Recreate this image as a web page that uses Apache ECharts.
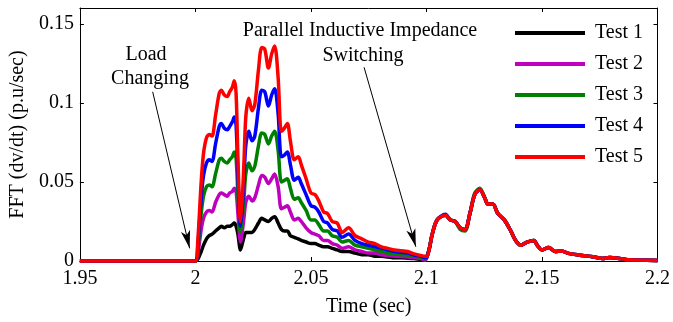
<!DOCTYPE html>
<html>
<head>
<meta charset="utf-8">
<script src="https://cdn.jsdelivr.net/npm/echarts@6/dist/echarts.min.js"></script>
<style>
  html, body { margin: 0; padding: 0; background: #fff; }
  #chart { width: 673px; height: 322px; }
</style>
</head>
<body>
<div id="chart"></div>
<script>
// Sample times (s)
const times = [
  1.95, 2.000, 2.001, 2.0025, 2.0035, 2.0048, 2.006, 2.0072, 2.0087, 2.0103,
  2.0112, 2.0125, 2.0138, 2.0148, 2.016, 2.0168, 2.0176, 2.0184, 2.0195, 2.0203,
  2.021, 2.0218, 2.0231, 2.0245, 2.0257, 2.0273, 2.0287, 2.030, 2.0316, 2.033,
  2.0343, 2.0358, 2.0372, 2.0385, 2.0398, 2.0411, 2.0428, 2.0445, 2.0458, 2.0479,
  2.050, 2.0517, 2.0534, 2.0555, 2.0572, 2.0592, 2.0614, 2.0635, 2.0663, 2.0691,
  2.072, 2.0748, 2.0777, 2.0805, 2.0833, 2.0862, 2.089, 2.0918, 2.0947, 2.0975,
  2.0995, 2.1003, 2.1014, 2.1025, 2.1046, 2.1082, 2.1103, 2.1124, 2.1146, 2.1167,
  2.1188, 2.1209, 2.1231, 2.1252, 2.1266, 2.1287, 2.1309, 2.1337, 2.1365, 2.1386,
  2.1408, 2.1436, 2.1465, 2.1479, 2.15, 2.1529, 2.1557, 2.1585, 2.1614, 2.1663,
  2.172, 2.1763, 2.1791, 2.1862, 2.1918, 2.2
];

// FFT of dv/dt (p.u/sec) for each test
const test1 = [
  0, 0, 0.001, 0.006, 0.010, 0.014, 0.016, 0.017, 0.019, 0.021,
  0.022, 0.021, 0.022, 0.022, 0.023, 0.024, 0.022, 0.017, 0.007, 0.011,
  0.015, 0.018, 0.018, 0.018, 0.020, 0.024, 0.027, 0.026, 0.025, 0.027,
  0.028, 0.024, 0.020, 0.019, 0.019, 0.016, 0.015, 0.014, 0.013, 0.012,
  0.011, 0.011, 0.010, 0.009, 0.009, 0.008, 0.007, 0.006, 0.006, 0.005,
  0.004, 0.004, 0.003, 0.003, 0.0025, 0.002, 0.002, 0.0018, 0.0015, 0.001,
  0.0008, 0.003, 0.009, 0.017, 0.026, 0.029, 0.026, 0.025, 0.021, 0.020,
  0.030, 0.042, 0.045, 0.040, 0.036, 0.036, 0.030, 0.026, 0.019, 0.013,
  0.010, 0.012, 0.013, 0.010, 0.007, 0.0085, 0.006, 0.0064, 0.0048, 0.0037,
  0.0027, 0.0016, 0.0022, 0.001, 0.0006, 0.0003
];
const test2 = [
  0, 0, 0.004, 0.020, 0.027, 0.031, 0.032, 0.031, 0.037, 0.042,
  0.043, 0.042, 0.041, 0.043, 0.044, 0.046, 0.044, 0.030, 0.012, 0.019,
  0.027, 0.037, 0.041, 0.038, 0.040, 0.048, 0.054, 0.053, 0.049, 0.052,
  0.055, 0.047, 0.033, 0.034, 0.035, 0.031, 0.026, 0.027, 0.025, 0.021,
  0.018, 0.017, 0.016, 0.013, 0.013, 0.011, 0.010, 0.008, 0.009, 0.007,
  0.006, 0.005, 0.005, 0.004, 0.0035, 0.003, 0.0028, 0.0025, 0.002, 0.0015,
  0.0005, 0.003, 0.009, 0.017, 0.026, 0.029, 0.026, 0.025, 0.021, 0.020,
  0.030, 0.042, 0.045, 0.040, 0.036, 0.036, 0.030, 0.026, 0.019, 0.013,
  0.010, 0.012, 0.013, 0.010, 0.007, 0.0085, 0.006, 0.0064, 0.0048, 0.0037,
  0.0027, 0.0016, 0.0022, 0.001, 0.0006, 0.0003
];
const test3 = [
  0, 0, 0.007, 0.030, 0.041, 0.047, 0.048, 0.047, 0.055, 0.064,
  0.065, 0.063, 0.062, 0.064, 0.066, 0.069, 0.065, 0.042, 0.018, 0.027,
  0.039, 0.055, 0.062, 0.057, 0.060, 0.073, 0.081, 0.080, 0.074, 0.079,
  0.082, 0.070, 0.050, 0.051, 0.052, 0.046, 0.039, 0.040, 0.037, 0.032,
  0.026, 0.026, 0.023, 0.019, 0.019, 0.016, 0.015, 0.012, 0.013, 0.010,
  0.009, 0.008, 0.007, 0.006, 0.005, 0.0045, 0.004, 0.0038, 0.003, 0.0022,
  0.0012, 0.003, 0.009, 0.017, 0.026, 0.029, 0.026, 0.025, 0.020, 0.019,
  0.030, 0.043, 0.046, 0.040, 0.036, 0.036, 0.030, 0.026, 0.019, 0.013,
  0.010, 0.012, 0.013, 0.010, 0.007, 0.0085, 0.006, 0.0064, 0.0048, 0.0037,
  0.0027, 0.0016, 0.0022, 0.001, 0.0006, 0.0003
];
const test4 = [
  0, 0, 0.009, 0.040, 0.054, 0.062, 0.064, 0.063, 0.074, 0.085,
  0.087, 0.084, 0.083, 0.085, 0.088, 0.091, 0.086, 0.054, 0.022, 0.034,
  0.051, 0.073, 0.082, 0.076, 0.079, 0.097, 0.108, 0.107, 0.098, 0.105,
  0.109, 0.093, 0.066, 0.067, 0.069, 0.061, 0.051, 0.053, 0.049, 0.042,
  0.035, 0.034, 0.031, 0.025, 0.024, 0.020, 0.019, 0.015, 0.017, 0.013,
  0.011, 0.010, 0.009, 0.008, 0.007, 0.006, 0.0055, 0.005, 0.0038, 0.003,
  0.002, 0.003, 0.009, 0.017, 0.026, 0.0295, 0.026, 0.025, 0.021, 0.020,
  0.030, 0.042, 0.045, 0.040, 0.036, 0.036, 0.030, 0.026, 0.019, 0.013,
  0.010, 0.012, 0.013, 0.010, 0.007, 0.0085, 0.006, 0.0064, 0.0048, 0.0037,
  0.0027, 0.0016, 0.0022, 0.001, 0.0006, 0.0003
];
const test5 = [
  0, 0, 0.012, 0.050, 0.068, 0.078, 0.080, 0.079, 0.092, 0.106,
  0.108, 0.105, 0.104, 0.107, 0.110, 0.114, 0.106, 0.065, 0.025, 0.040,
  0.062, 0.091, 0.103, 0.095, 0.099, 0.121, 0.135, 0.134, 0.122, 0.131,
  0.136, 0.116, 0.082, 0.084, 0.087, 0.076, 0.064, 0.066, 0.061, 0.052,
  0.043, 0.042, 0.038, 0.031, 0.030, 0.025, 0.024, 0.018, 0.021, 0.016,
  0.014, 0.012, 0.011, 0.009, 0.008, 0.007, 0.0065, 0.006, 0.0045, 0.0035,
  0.003, 0.003, 0.009, 0.017, 0.026, 0.029, 0.026, 0.025, 0.021, 0.020,
  0.030, 0.042, 0.045, 0.040, 0.036, 0.036, 0.030, 0.026, 0.019, 0.013,
  0.010, 0.012, 0.013, 0.010, 0.007, 0.0085, 0.006, 0.0064, 0.0048, 0.0037,
  0.0027, 0.0016, 0.0022, 0.001, 0.0006, 0.0003
];

const seriesNames = ['Test 1', 'Test 2', 'Test 3', 'Test 4', 'Test 5'];
const seriesValues = [test1, test2, test3, test4, test5];
const seriesColors = ['#000000', '#bf00bf', '#008000', '#0000ff', '#ff0000'];

// Annotation arrows: [start, tip] in (time, value)
const loadArrow = [[1.9815, 0.107], [1.9975, 0.008]];
const switchArrow = [[2.073, 0.1225], [2.0954, 0.009]];

const FONT = '"Liberation Serif", "Times New Roman", serif';
const txt = { color: '#000', fontFamily: FONT, fontSize: 20 };

const chart = echarts.init(document.getElementById('chart'), null, { renderer: 'canvas' });

const boxAxisX = (pos, labels) => ({
  type: 'value', position: pos, min: 1.95, max: 2.2, interval: 0.05,
  axisLine: { show: true, onZero: false, lineStyle: { color: '#000', width: 1 } },
  axisTick: { show: true, inside: true, length: 4, lineStyle: { color: '#000', width: 1 } },
  axisLabel: Object.assign({ show: labels, margin: 8 }, txt),
  splitLine: { show: false }
});
const boxAxisY = (pos, labels) => ({
  type: 'value', position: pos, min: 0, max: 0.16, interval: 0.05,
  axisLine: { show: true, onZero: false, lineStyle: { color: '#000', width: 1 } },
  axisTick: { show: true, inside: true, length: 4, lineStyle: { color: '#000', width: 1 } },
  axisLabel: Object.assign({ show: labels, margin: 6, showMaxLabel: false }, txt),
  splitLine: { show: false }
});

const xMain = boxAxisX('bottom', true);
xMain.name = 'Time (sec)';
xMain.nameLocation = 'middle';
xMain.nameGap = 36;
xMain.nameTextStyle = Object.assign({}, txt);
const yMain = boxAxisY('left', true);
yMain.name = 'FFT (dv/dt) (p.u/sec)';
yMain.nameLocation = 'middle';
yMain.nameGap = 48;
yMain.nameTextStyle = Object.assign({}, txt);

const arrowLine = (a) => [
  { coord: a[0], symbol: 'none' },
  { coord: a[1], symbol: 'arrow', symbolSize: [7, 18] }
];

const series = seriesNames.map((name, i) => {
  const s = {
    name: name,
    type: 'line',
    data: times.map((t, k) => [t, seriesValues[i][k]]),
    color: seriesColors[i],
    showSymbol: false,
    symbol: 'none',
    smooth: 0.3,
    clip: false,
    lineStyle: { width: 3.5, color: seriesColors[i] },
    z: 2 + i
  };
  if (i === 0) {
    s.markLine = {
      silent: true,
      animation: false,
      label: { show: false },
      lineStyle: { color: '#000', width: 1, type: 'solid' },
      symbol: ['none', 'arrow'],
      data: [arrowLine(loadArrow), arrowLine(switchArrow)]
    };
  }
  return s;
});

const textEl = (text, x, y) => ({
  type: 'text', x: x, y: y, z: 100,
  style: { text: text, font: '20px ' + FONT, fill: '#000', align: 'center', verticalAlign: 'middle' }
});

chart.setOption({
  animation: false,
  backgroundColor: '#fff',
  grid: { left: 74, right: 11, top: 8, bottom: 58, containLabel: false },
  xAxis: [xMain, boxAxisX('top', false)],
  yAxis: [yMain, boxAxisY('right', false)],
  legend: {
    orient: 'vertical', left: 515, top: 23, padding: 0,
    itemWidth: 70, itemHeight: 4, itemGap: 11, icon: 'rect',
    textStyle: Object.assign({ padding: [0, 0, 0, 5], lineHeight: 20 }, txt),
    data: seriesNames
  },
  graphic: [
    textEl('Load', 146, 55),
    textEl('Changing', 150, 79),
    textEl('Parallel Inductive Impedance', 360, 31),
    textEl('Switching', 363, 56)
  ],
  series: series
});
</script>
</body>
</html>
